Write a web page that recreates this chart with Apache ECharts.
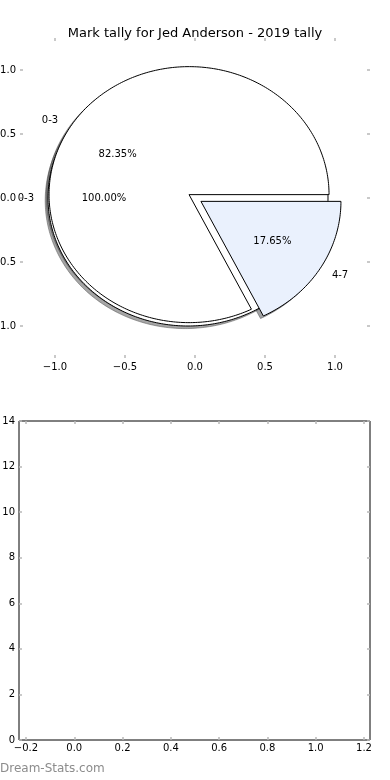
<!DOCTYPE html>
<html>
<head>
<meta charset="utf-8">
<script src="https://cdn.jsdelivr.net/npm/echarts@6/dist/echarts.min.js"></script>
<style>html,body{margin:0;padding:0;background:#fff;}#c{width:390px;height:780px;}</style>
</head>
<body>
<div id="c"></div>
<script>
// ---- data ----
const titleText = 'Mark tally for Jed Anderson - 2019 tally';
const pie1Labels = ['0-3', '4-7'];
const pie1Values = [14, 3];
const pie2Labels = ['0-3'];
const pie2Values = [14];
const topTicks = [-1.0, -0.5, 0.0, 0.5, 1.0];
const bottomXTicks = [-0.2, 0.0, 0.2, 0.4, 0.6, 0.8, 1.0, 1.2];
const bottomYTicks = [0, 2, 4, 6, 8, 10, 12, 14];
const watermark = 'Dream-Stats.com';

// ---- style ----
const FONT = 'DejaVu Sans';
const pie1Colors = ['#ffffff', '#eaf1fd'];
const pie2Colors = ['#ffffff'];
const EXPLODE = 0.05;
const SHADOW_OFF = -0.02;
const TICK_COLOR = '#b8b8b8';

function buildWedges(labels, values, colors) {
  const total = values.reduce((a, b) => a + b, 0);
  let acc = 0;
  return values.map((v, i) => {
    const t1 = acc / total * 360; acc += v; const t2 = acc / total * 360;
    return { t1: t1, t2: t2, pct: v / total * 100, name: labels[i], color: colors[i % colors.length] };
  });
}
// pie 2 drawn first, then pie 1 on top
const wedges = buildWedges(pie2Labels, pie2Values, pie2Colors)
  .concat(buildWedges(pie1Labels, pie1Values, pie1Colors));
const wedgeData = wedges.map(w => [w.t1, w.t2, w.pct]);

function shade(hex) {
  const r = parseInt(hex.substr(1, 2), 16), g = parseInt(hex.substr(3, 2), 16), b = parseInt(hex.substr(5, 2), 16);
  return 'rgba(' + Math.round(r * 0.3) + ',' + Math.round(g * 0.3) + ',' + Math.round(b * 0.3) + ',0.5)';
}

function wedgePoints(api, w, off) {
  const mid = (w.t1 + w.t2) / 2 * Math.PI / 180;
  const cx = EXPLODE * Math.cos(mid) + off, cy = EXPLODE * Math.sin(mid) + off;
  const full = (w.t2 - w.t1) >= 359.999;
  const pts = [];
  if (!full) pts.push(api.coord([cx, cy]));
  const n = Math.max(4, Math.ceil(w.t2 - w.t1));
  for (let k = 0; k <= n; k++) {
    const a = (w.t1 + (w.t2 - w.t1) * k / n) * Math.PI / 180;
    pts.push(api.coord([cx + Math.cos(a), cy + Math.sin(a)]));
  }
  return pts;
}

function mkAxis(gridIndex, pos, min, max, ticks, showLabel, fmt, margin) {
  return {
    type: 'value', gridIndex: gridIndex, position: pos, min: min, max: max,
    axisLine: { show: false, onZero: false },
    splitLine: { show: false },
    axisTick: { show: true, inside: true, length: 3, customValues: ticks, lineStyle: { color: TICK_COLOR, width: 1.5 } },
    axisLabel: { show: showLabel, customValues: ticks, formatter: fmt, margin: margin,
      color: '#000', fontFamily: FONT, fontSize: 10 },
  };
}
const fmt1 = v => v.toFixed(1).replace('-', '\u2212');
const fmt0 = v => String(Math.round(v)).replace('-', '\u2212');

const chart = echarts.init(document.getElementById('c'), null, { renderer: 'canvas' });
chart.setOption({
  animation: false,
  backgroundColor: '#fff',
  title: { text: titleText, left: 'center', top: 22,
    textStyle: { fontFamily: FONT, fontSize: 13, fontWeight: 'normal', color: '#000' } },
  graphic: [{ type: 'text', left: 0, top: 763,
    style: { text: watermark, fill: '#8c8c8c', font: '12px "DejaVu Sans"' } }],
  grid: [
    { left: 20, top: 38, width: 350, height: 320, show: false, containLabel: false, outerBoundsMode: 'none' },
    { left: 19, top: 421, width: 351, height: 319, show: true, borderColor: '#000', borderWidth: 1,
      backgroundColor: 'transparent', containLabel: false, outerBoundsMode: 'none' }
  ],
  xAxis: [
    mkAxis(0, 'bottom', -1.25, 1.25, topTicks, true, fmt1, 4),
    mkAxis(0, 'top', -1.25, 1.25, topTicks, false, fmt1, 4),
    mkAxis(1, 'bottom', -0.229, 1.225, bottomXTicks, true, fmt1, 3),
    mkAxis(1, 'top', -0.229, 1.225, bottomXTicks, false, fmt1, 3)
  ],
  yAxis: [
    mkAxis(0, 'left', -1.25, 1.25, topTicks, true, fmt1, 4),
    mkAxis(0, 'right', -1.25, 1.25, topTicks, false, fmt1, 4),
    mkAxis(1, 'left', 0, 14, bottomYTicks, true, fmt0, 4),
    mkAxis(1, 'right', 0, 14, bottomYTicks, false, fmt0, 4)
  ],
  series: [
    { // shadows
      type: 'custom', xAxisIndex: 0, yAxisIndex: 0, z: 1, silent: true,
      data: wedgeData,
      renderItem: function (params, api) {
        const w = wedges[params.dataIndex];
        const c = shade(w.color);
        return { type: 'polygon', shape: { points: wedgePoints(api, w, SHADOW_OFF) },
          style: { fill: c, stroke: c, lineWidth: 1 } };
      }
    },
    { // wedges
      type: 'custom', xAxisIndex: 0, yAxisIndex: 0, z: 2, silent: true,
      data: wedgeData,
      renderItem: function (params, api) {
        const w = wedges[params.dataIndex];
        return { type: 'polygon', shape: { points: wedgePoints(api, w, 0) },
          style: { fill: w.color, stroke: '#000', lineWidth: 1 } };
      }
    },
    { // labels
      type: 'custom', xAxisIndex: 0, yAxisIndex: 0, z: 3, silent: true,
      data: wedgeData,
      renderItem: function (params, api) {
        const w = wedges[params.dataIndex];
        const mid = (w.t1 + w.t2) / 2 * Math.PI / 180;
        const cx = EXPLODE * Math.cos(mid), cy = EXPLODE * Math.sin(mid);
        const lp = api.coord([cx + 1.1 * Math.cos(mid), cy + 1.1 * Math.sin(mid)]);
        const pp = api.coord([cx + 0.6 * Math.cos(mid), cy + 0.6 * Math.sin(mid)]);
        const al = Math.cos(mid) > 0 ? 'left' : 'right';
        return { type: 'group', children: [
          { type: 'text', x: lp[0], y: lp[1], style: { text: w.name, fill: '#000', fontFamily: FONT, fontSize: 10,
              align: al, verticalAlign: 'middle', textAlign: al, textVerticalAlign: 'middle' } },
          { type: 'text', x: pp[0], y: pp[1], style: { text: w.pct.toFixed(2) + '%', fill: '#000', fontFamily: FONT, fontSize: 10,
              align: 'center', verticalAlign: 'middle', textAlign: 'center', textVerticalAlign: 'middle' } }
        ] };
      }
    }
  ]
});
</script>
</body>
</html>
